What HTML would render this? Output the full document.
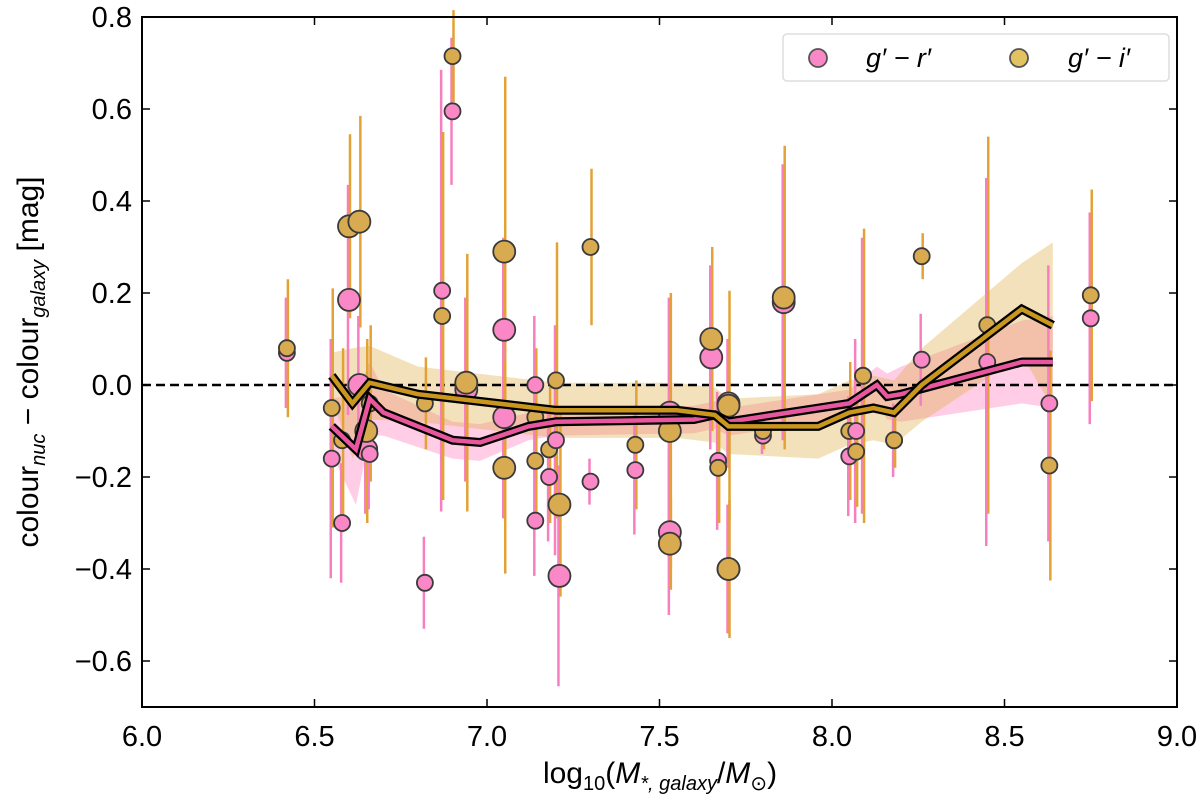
<!DOCTYPE html>
<html><head><meta charset="utf-8"><style>
body{margin:0;background:#fff;font-family:"Liberation Sans","DejaVu Sans",sans-serif}
svg text{font-family:"Liberation Sans","DejaVu Sans",sans-serif}
</style></head><body>
<svg id="c" width="1200" height="800" xmlns="http://www.w3.org/2000/svg"></svg>
<script>
const xs   =[6.42,6.55,6.58,6.60,6.63,6.65,6.66,6.82,6.87,6.90,6.94,7.05,7.05,7.14,7.14,7.18,7.20,7.21,7.30,7.43,7.53,7.53,7.65,7.67,7.70,7.70,7.80,7.86,8.05,8.07,8.09,8.18,8.26,8.45,8.63,8.75];
const grVals=[0.07,-0.16,-0.30,0.185,0.0,-0.14,-0.15,-0.43,0.205,0.595,-0.01,0.12,-0.07,0.0,-0.295,-0.20,-0.12,-0.415,-0.21,-0.185,-0.32,-0.06,0.06,-0.165,-0.04,-0.40,-0.11,0.18,-0.155,-0.10,0.02,-0.12,0.055,0.05,-0.04,0.145];
const giVals=[0.08,-0.05,-0.12,0.345,0.355,-0.10,-0.04,-0.04,0.15,0.715,0.005,0.29,-0.18,-0.07,-0.165,-0.14,0.01,-0.26,0.30,-0.13,-0.345,-0.10,0.10,-0.18,-0.045,-0.40,-0.10,0.19,-0.10,-0.145,0.02,-0.12,0.28,0.13,-0.175,0.195];
const grErr=[0.12,0.26,0.13,0.25,0.15,0.14,0.12,0.1,0.48,0.16,0.2,0.2,0.22,0.15,0.12,0.14,0.25,0.24,0.05,0.14,0.18,0.25,0.2,0.15,0.14,0.14,0.04,0.3,0.13,0.2,0.3,0.08,0.1,0.4,0.3,0.23];
const giErr=[0.15,0.26,0.2,0.2,0.23,0.2,0.17,0.1,0.4,0.1,0.28,0.38,0.23,0.15,0.13,0.16,0.3,0.2,0.17,0.14,0.1,0.3,0.2,0.12,0.25,0.15,0.04,0.33,0.15,0.12,0.32,0.06,0.05,0.41,0.25,0.23];
const bigPt=[0,0,0,1,1,1,0,0,0,0,1,1,1,0,0,0,0,1,0,0,1,1,1,0,1,1,0,1,0,0,0,0,0,0,0,0];
const grLineX=[6.55,6.62,6.66,6.70,6.90,6.98,7.12,7.20,7.60,7.66,7.70,8.05,8.13,8.16,8.20,8.55,8.64];
const grLineY=[-0.09,-0.14,-0.03,-0.06,-0.12,-0.125,-0.09,-0.08,-0.075,-0.065,-0.08,-0.04,0.0,-0.025,-0.02,0.05,0.05];
const grBand=[0.06,0.12,0.08,0.05,0.04,0.04,0.03,0.03,0.03,0.03,0.03,0.03,0.04,0.05,0.06,0.09,0.1];
const giLineX=[6.55,6.61,6.66,6.80,7.20,7.55,7.66,7.70,7.96,8.05,8.12,8.18,8.26,8.55,8.64];
const giLineY=[0.02,-0.04,0.005,-0.02,-0.055,-0.055,-0.065,-0.09,-0.09,-0.06,-0.05,-0.06,0.0,0.165,0.13];
const giBand=[0.05,0.12,0.08,0.06,0.06,0.06,0.06,0.06,0.07,0.07,0.07,0.07,0.08,0.1,0.18];
const xTicks=[6.0,6.5,7.0,7.5,8.0,8.5,9.0];
const yTicks=[-0.6,-0.4,-0.2,0.0,0.2,0.4,0.6,0.8];

const L=142,R=1177,T=17,B=707;
const X=v=>L+(v-6)/3*(R-L);
const Y=v=>T+(0.8-v)/1.5*(B-T);
const svg=document.getElementById('c');
const NS='http://www.w3.org/2000/svg';
function mk(tag,at,parent){const e=document.createElementNS(NS,tag);for(const k in at)e.setAttribute(k,at[k]);(parent||svg).appendChild(e);return e;}

function band(xa,ya,wa,fill,name){
  let d='M'+xa.map((x,i)=>X(x)+','+Y(ya[i]+wa[i])).join('L');
  for(let i=xa.length-1;i>=0;i--)d+='L'+X(xa[i])+','+Y(ya[i]-wa[i]);
  const p=mk('path',{d:d+'Z',fill:fill});
  
  
}
band(grLineX,grLineY,grBand,'rgba(255,130,190,0.4)','gr-band');
band(giLineX,giLineY,giBand,'rgba(220,170,60,0.35)','gi-band');

const z=mk('line',{x1:L,x2:R,y1:Y(0),y2:Y(0),stroke:'#000','stroke-width':2.5,'stroke-dasharray':'9,5'});



xs.forEach((x,i)=>{
  const a=mk('line',{x1:X(x)-1,x2:X(x)-1,y1:Y(grVals[i]-grErr[i]),y2:Y(grVals[i]+grErr[i]),stroke:'#f77fbf','stroke-width':2.5});
  
  
  const b=mk('line',{x1:X(x)+1,x2:X(x)+1,y1:Y(giVals[i]-giErr[i]),y2:Y(giVals[i]+giErr[i]),stroke:'#e3a235','stroke-width':2.5});
  
  
});
xs.forEach((x,i)=>{
  const r=bigPt[i]?11:8;
  const a=mk('circle',{cx:X(x),cy:Y(grVals[i]),r:r,fill:'#fa88c6',stroke:'#3a3a3a','stroke-width':1.8});
  
  
  const b=mk('circle',{cx:X(x),cy:Y(giVals[i]),r:r,fill:'#d9ab50',stroke:'#3a3a3a','stroke-width':1.8});
  
  
});
function line(xa,ya,col,name){
  const pts=xa.map((x,i)=>X(x)+','+Y(ya[i])).join(' ');
  const o=mk('polyline',{points:pts,fill:'none',stroke:'#000','stroke-width':9});
  
  
  const p=mk('polyline',{points:pts,fill:'none',stroke:col,'stroke-width':4.5});
  
  
}
line(grLineX,grLineY,'#e8579e','gr-median-line');
line(giLineX,giLineY,'#c9961e','gi-median-line');

const f=mk('rect',{x:L,y:T,width:R-L,height:B-T,fill:'none',stroke:'#000','stroke-width':2});


xTicks.forEach(t=>{
  const x=X(t);
  mk('line',{x1:x,x2:x,y1:B,y2:B-8,stroke:'#000','stroke-width':1.5});
  mk('line',{x1:x,x2:x,y1:T,y2:T+8,stroke:'#000','stroke-width':1.5});
  const tx=mk('text',{x:x,y:B+39,'font-size':29,'text-anchor':'middle'});
  tx.textContent=t.toFixed(1);
  
  
});
yTicks.forEach(t=>{
  const y=Y(t);
  mk('line',{x1:L,x2:L+8,y1:y,y2:y,stroke:'#000','stroke-width':1.5});
  mk('line',{x1:R,x2:R-8,y1:y,y2:y,stroke:'#000','stroke-width':1.5});
  const tx=mk('text',{x:L-10,y:y+10,'font-size':29,'text-anchor':'end'});
  tx.textContent=(t<0?'\u2212':'')+Math.abs(t).toFixed(1);
  
  
});
</script>
<svg width="1200" height="800" style="position:absolute;left:0;top:0" xmlns="http://www.w3.org/2000/svg">
<g>
<rect x="783" y="34" width="386" height="47" rx="4" fill="#fff" stroke="#ddd" stroke-width="1.5"/>
<circle cx="818" cy="58" r="9" fill="#fa88c6" stroke="#555" stroke-width="1.8"/>
<text x="866" y="67" font-size="27" font-style="italic">g′ − r′</text>
<circle cx="1019" cy="58" r="9" fill="#e3c262" stroke="#555" stroke-width="1.8"/>
<text x="1068" y="67" font-size="27" font-style="italic">g′ − i′</text>
</g>
<text x="660" y="783" font-size="30" text-anchor="middle">log<tspan font-size="20" dy="7">10</tspan><tspan dy="-7">(</tspan><tspan font-style="italic">M</tspan><tspan font-size="20" dy="7" font-style="italic">*, galaxy</tspan><tspan dy="-7">/</tspan><tspan font-style="italic">M</tspan><tspan font-size="20" dy="7">⊙</tspan><tspan dy="-7">)</tspan></text>
<text transform="translate(38,362) rotate(-90)" font-size="30" text-anchor="middle">colour<tspan font-size="20" dy="7" font-style="italic">nuc</tspan><tspan dy="-7"> − colour</tspan><tspan font-size="20" dy="7" font-style="italic">galaxy</tspan><tspan dy="-7"> [mag]</tspan></text>
</svg>
</body></html>
